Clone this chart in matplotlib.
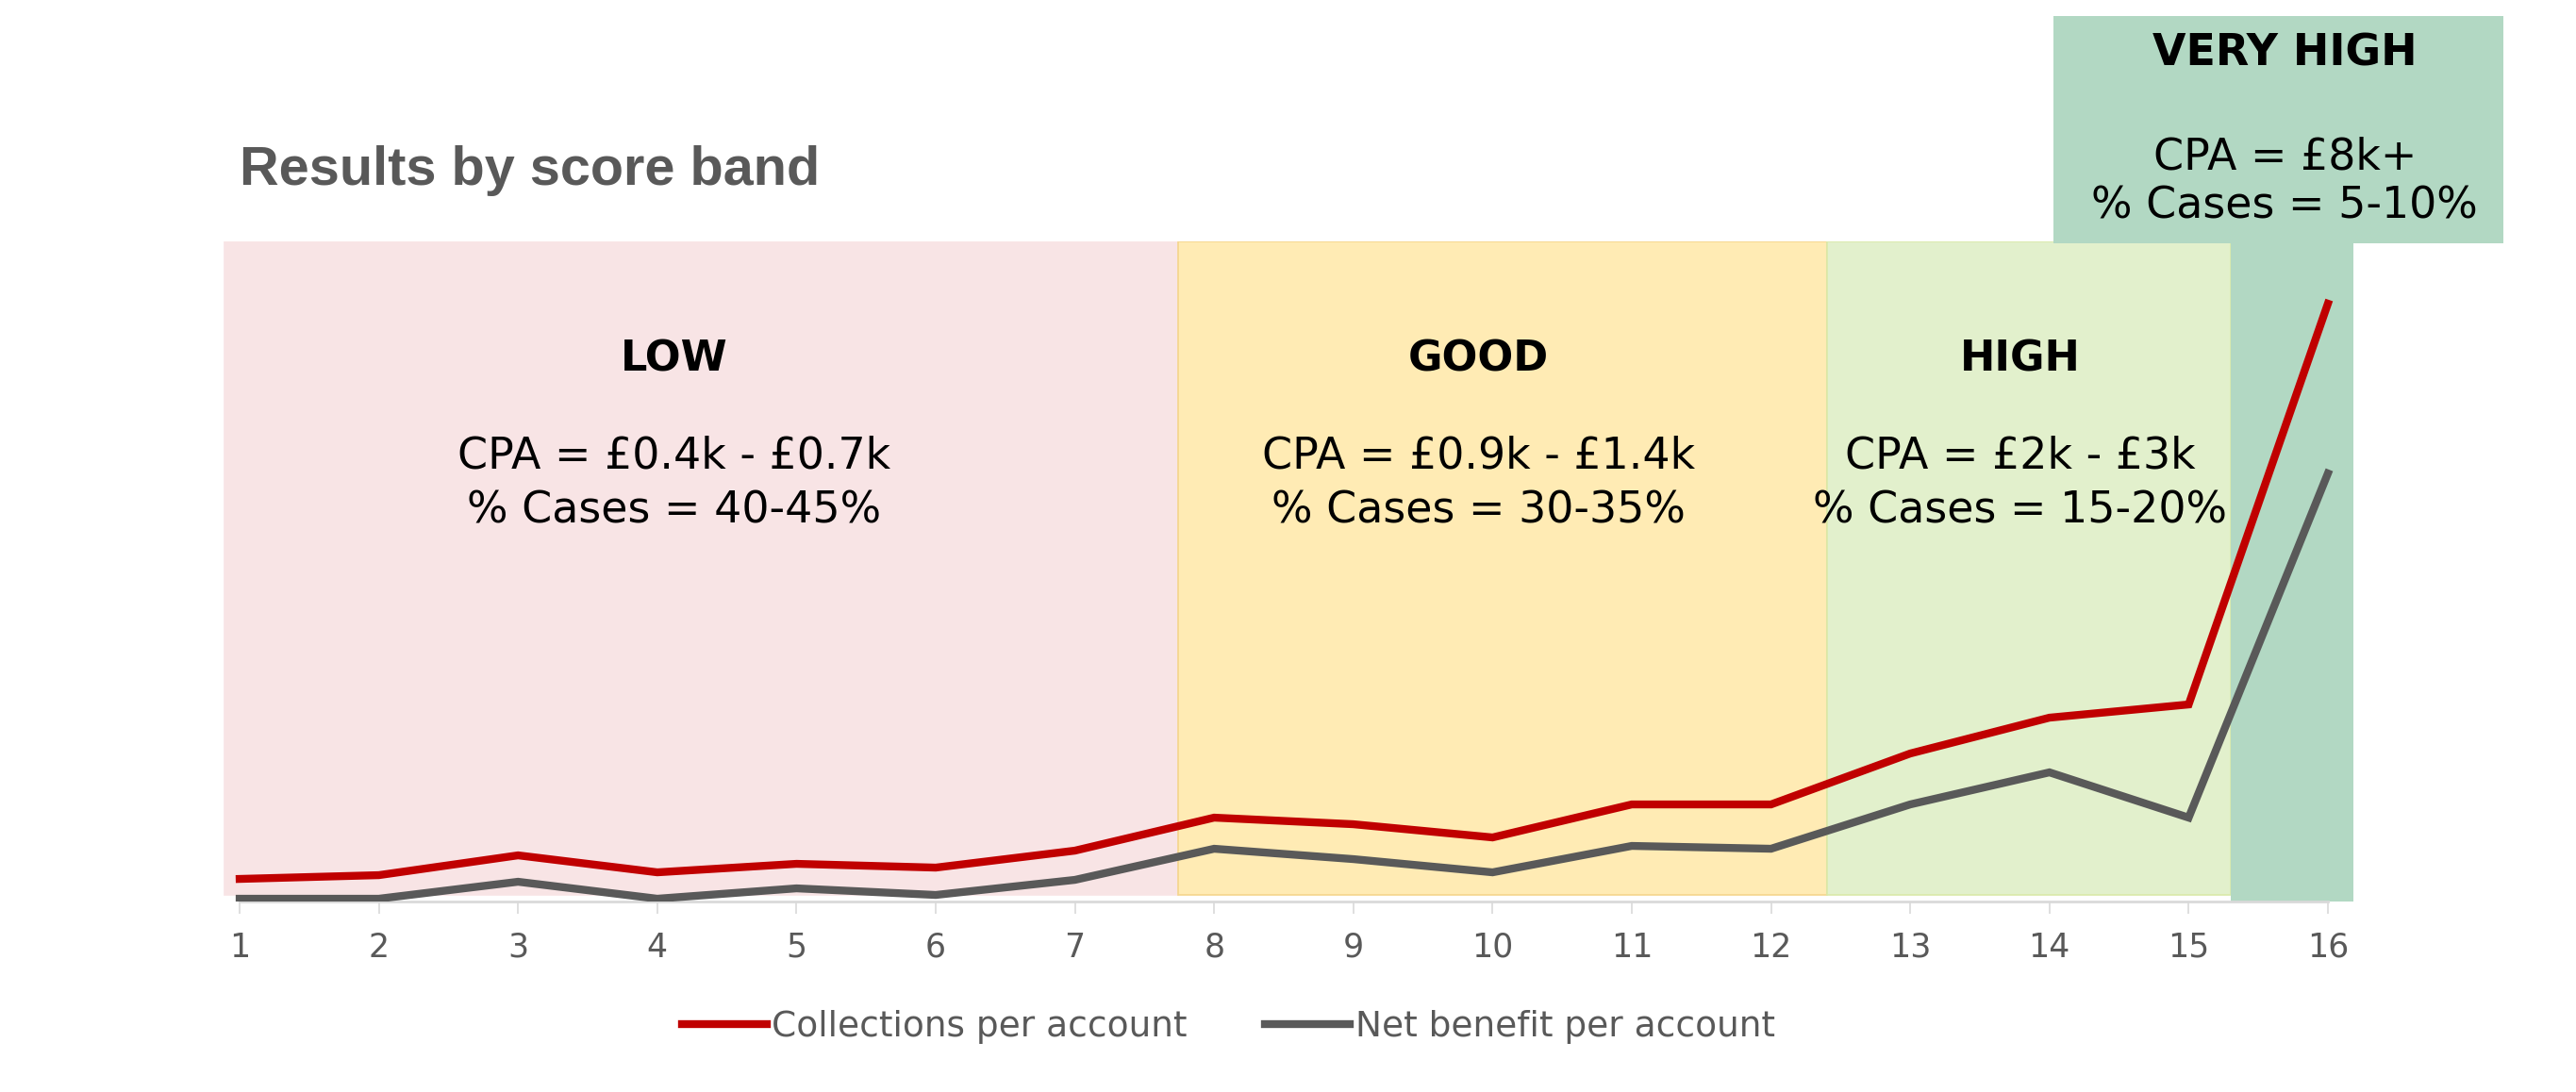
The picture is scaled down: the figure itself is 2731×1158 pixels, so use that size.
import matplotlib
matplotlib.use("Agg")
import matplotlib.pyplot as plt
from matplotlib.patches import Rectangle

# ── Data ──────────────────────────────────────────────────────────────
score_band = list(range(1, 17))
collections = [21, 25, 46, 28, 37, 33, 51, 86, 79, 65, 100, 100, 154, 192, 206, 631]
net_benefit = [0, 0, 18, 0, 11, 4, 20, 53, 42, 28, 56, 53, 100, 134, 86, 451]

band_names = ["LOW", "GOOD", "HIGH", "VERY HIGH"]
band_cpa = ["CPA = £0.4k - £0.7k", "CPA = £0.9k - £1.4k",
            "CPA = £2k - £3k", "CPA = £8k+"]
band_cases = ["% Cases = 40-45%", "% Cases = 30-35%",
              "% Cases = 15-20%", "% Cases = 5-10%"]

# ── Layout / style ────────────────────────────────────────────────────
band_edges = [0.89, 7.74, 12.40, 15.30, 16.18]
band_colors = ["#F8E4E5", "#FFEBB4", "#E2F0CC", "#B2D8C3"]
band_edgecols = ["#F8E4E5", "#F5D58C", "#D9E9A8", "#B2D8C3"]
label_x = [4.12, 9.90, 13.79, 15.69]
RED = "#C00000"
GREY = "#595959"

fig = plt.figure(figsize=(27.31, 11.58), dpi=100)
ax = fig.add_axes([0.066, 0.1744, 0.8647, 0.6045])
ax.set_xlim(0.5, 16.5)
ax.set_ylim(-3, 697)

# score band backgrounds
for i in range(3):
    ax.add_patch(Rectangle((band_edges[i], 4), band_edges[i + 1] - band_edges[i], 693,
                           facecolor=band_colors[i], edgecolor=band_edgecols[i],
                           lw=1.2, zorder=0))
# very high column + header box above the plot
ax.add_patch(Rectangle((band_edges[3], -3), band_edges[4] - band_edges[3], 700,
                       facecolor=band_colors[3], edgecolor="none", zorder=0))
ax.add_patch(Rectangle((14.03, 695), 3.23, 241, facecolor=band_colors[3],
                       edgecolor="none", zorder=0, clip_on=False))

# band texts
for i in range(3):
    ax.text(label_x[i], 572, band_names[i], ha="center", va="center",
            fontsize=32, fontweight="bold", color="black", zorder=4)
    ax.text(label_x[i], 469, band_cpa[i], ha="center", va="center",
            fontsize=33, color="black", zorder=4)
    ax.text(label_x[i], 411, band_cases[i], ha="center", va="center",
            fontsize=33, color="black", zorder=4)
ax.text(label_x[3], 896, band_names[3], ha="center", va="center",
        fontsize=33, fontweight="bold", color="black", clip_on=False)
ax.text(label_x[3], 786, band_cpa[3], ha="center", va="center",
        fontsize=33, color="black", clip_on=False)
ax.text(label_x[3], 734, band_cases[3], ha="center", va="center",
        fontsize=33, color="black", clip_on=False)

# lines
ax.plot(score_band, collections, color=RED, lw=6, label="Collections per account",
        zorder=3, solid_joinstyle="miter")
ax.plot(score_band, net_benefit, color=GREY, lw=6, label="Net benefit per account",
        zorder=3, solid_joinstyle="miter")

# axes styling
for s in ["top", "right", "left"]:
    ax.spines[s].set_visible(False)
ax.spines["bottom"].set_color("#D9D9D9")
ax.spines["bottom"].set_linewidth(2)
ax.spines["bottom"].set_bounds(1, 16)
ax.set_yticks([])
ax.set_xticks(score_band)
ax.tick_params(axis="x", length=9, width=1.2, color="#D9D9D9", pad=14,
               labelsize=25, labelcolor=GREY)

fig.text(0.093, 0.8437, "Results by score band", ha="left", va="center",
         fontsize=41.5, fontweight="bold", color=GREY, family="Liberation Sans")

leg = ax.legend(loc="center", bbox_to_anchor=(0.4768, 0.0596),
                bbox_transform=fig.transFigure, ncol=2, frameon=False,
                handlelength=2.4, handletextpad=0.15, columnspacing=2.2,
                fontsize=27)
for t in leg.get_texts():
    t.set_color(GREY)

fig.savefig("out.png", dpi=100, facecolor="white")
